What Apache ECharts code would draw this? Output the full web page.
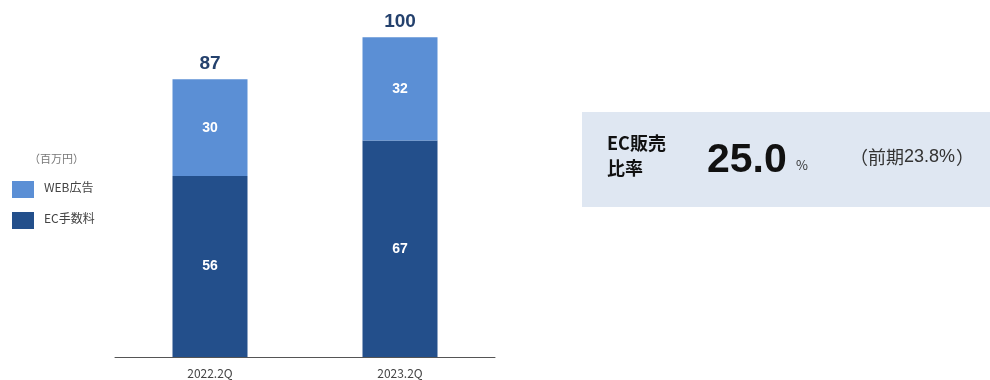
<!DOCTYPE html>
<html>
<head>
<meta charset="utf-8">
<script src="https://cdn.jsdelivr.net/npm/echarts@6/dist/echarts.min.js"></script>
<style>
  html, body { margin: 0; padding: 0; background: #fff; }
  #chart { width: 990px; height: 380px; }
</style>
</head>
<body>
<div id="chart"></div>
<script>
// Quarterly revenue breakdown (million yen)
const categories = ['2022.2Q', '2023.2Q'];
const ecFees = [56, 67];        // EC手数料
const webAds = [30, 32];        // WEB広告
const totals = [87, 100];       // 合計
const seriesNames = ['WEB広告', 'EC手数料'];
const unitLabel = '（百万円）';
const ratioTitle = ['EC販売', '比率'];
const ratioValue = '25.0';
const ratioPrev = ['（前期', '23.8%', '）'];

const COLOR_LIGHT = '#5b8fd5';
const COLOR_DARK = '#234f8b';
const JP = '"Noto Sans CJK JP", "Noto Sans", sans-serif';
const NUM = '"Liberation Sans", Arial, sans-serif';

const chart = echarts.init(document.getElementById('chart'), null, { renderer: 'canvas' });

chart.setOption({
  animation: false,
  grid: { left: 115, right: 495, top: 34, bottom: 23, containLabel: false },
  xAxis: {
    type: 'category',
    data: categories,
    axisTick: { show: false },
    axisLine: { lineStyle: { color: '#555', width: 1 } },
    axisLabel: { color: '#444', fontSize: 12, fontFamily: JP, margin: 10 }
  },
  yAxis: { type: 'value', min: 0, max: 100, show: false, splitLine: { show: false } },
  legend: { show: false },
  series: [
    {
      name: seriesNames[1], type: 'bar', stack: 'total', data: ecFees, barWidth: 75,
      itemStyle: { color: COLOR_DARK },
      label: { show: true, position: 'inside', color: '#fff', fontSize: 14, fontWeight: 'bold', fontFamily: NUM }
    },
    {
      name: seriesNames[0], type: 'bar', stack: 'total', data: webAds, barWidth: 75,
      itemStyle: { color: COLOR_LIGHT },
      label: { show: true, position: 'inside', color: '#fff', fontSize: 14, fontWeight: 'bold', fontFamily: NUM }
    },
    {
      // totals shown above each stack
      name: '合計', type: 'scatter', data: totals, symbolSize: 0,
      itemStyle: { opacity: 1 },
      label: { show: true, position: 'top', distance: 3, color: '#24416d', opacity: 1, fontSize: 19, fontWeight: 'bold', fontFamily: NUM }
    }
  ],
  graphic: [
    { type: 'text', left: 29, top: 153, style: { text: unitLabel, fill: '#777', font: '11px ' + JP } },
    { type: 'rect', shape: { x: 12, y: 181, width: 22, height: 17 }, style: { fill: COLOR_LIGHT } },
    { type: 'text', left: 44, top: 181, style: { text: seriesNames[0], fill: '#444', font: '12px ' + JP } },
    { type: 'rect', shape: { x: 12, y: 212, width: 22, height: 17 }, style: { fill: COLOR_DARK } },
    { type: 'text', left: 44, top: 212, style: { text: seriesNames[1], fill: '#444', font: '12px ' + JP } },
    // EC sales ratio panel
    { type: 'rect', shape: { x: 582, y: 112, width: 408, height: 95 }, style: { fill: '#dfe7f2' } },
    { type: 'text', left: 607, top: 134, style: { text: ratioTitle[0], fill: '#111', font: 'bold 18px ' + JP } },
    { type: 'text', left: 607, top: 159, style: { text: ratioTitle[1], fill: '#111', font: 'bold 18px ' + JP } },
    { type: 'text', left: 707, top: 140, style: { text: ratioValue, fill: '#111', font: 'bold 41px ' + NUM } },
    { type: 'text', left: 796, top: 159, style: { text: '%', fill: '#333', font: '13px ' + JP } },
    {
      type: 'text', left: 850, top: 148,
      style: {
        text: '{p|' + ratioPrev[0] + '}{n|' + ratioPrev[1] + '}{p|' + ratioPrev[2] + '}',
        rich: {
          p: { fill: '#333', font: '18px ' + JP },
          n: { fill: '#333', font: '18px ' + NUM, padding: [0, 1, 0, 0] }
        }
      }
    }
  ]
});
</script>
</body>
</html>
